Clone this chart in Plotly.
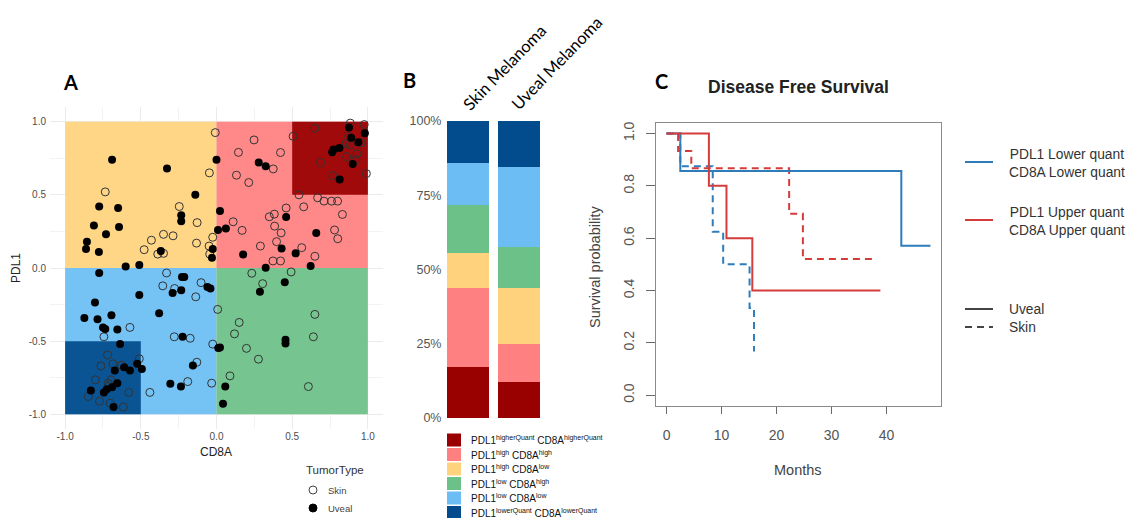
import plotly.graph_objects as go

# page has an 8px body margin; figure fills the rest of the 1139x526 window
OX, OY = 8, 8
FW, FH = 1123, 510


def px(x):
    return (x - OX) / FW


def py(y):
    return 1 - (y - OY) / FH


# ---------------- Panel A data (CD8A vs PDL1) ----------------
uveal_x = [-0.69, -0.775, -0.65, -0.81, -0.644, -0.73, -0.856, -0.862, -0.777, -0.6, -0.51, -0.327, -0.14,
           -0.233, -0.233, -0.368, -0.025, -0.03, 0.0,
           0.279, 0.325, 0.023, 0.01, 0.062, 0.46, 0.43, 0.176, 0.325, 0.523, 0.659, 0.622,
           0.814, 0.764, 0.773, 0.812, 0.875, 0.89, 0.98, 0.937, 0.9,
           -0.775, -0.803, -0.873, -0.786, -0.694, -0.75, -0.735, -0.655, -0.637, -0.51, -0.29, -0.233,
           -0.228, -0.213, -0.06, -0.04, -0.379, -0.224, -0.156, -0.305, -0.235,
           -0.672, -0.61, -0.572, -0.524, -0.493, -0.83, -0.744, -0.725, -0.69, -0.655, -0.68,
           0.287, 0.451, 0.058, 0.043, 0.023, 0.012, 0.456, 0.456]
uveal_y = [0.74, 0.42, 0.41, 0.29, 0.28, 0.23, 0.18, 0.13, 0.11, 0.01, 0.02, 0.68, 0.50,
           0.36, 0.32, 0.116, 0.13, 0.07, 0.74,
           0.72, 0.695, 0.39, 0.26, 0.27, 0.348, 0.134, 0.093, 0.002, 0.1, 0.239, 0.014,
           0.605, 0.79, 0.81, 0.82, 0.96, 0.89, 0.92, 0.86, 0.71,
           -0.034, -0.236, -0.342, -0.35, -0.322, -0.406, -0.417, -0.42, -0.52, -0.184, -0.17, -0.152,
           -0.061, -0.061, -0.13, -0.14, -0.31, -0.47, -0.667, -0.79, -0.81,
           -0.70, -0.678, -0.70, -0.655, -0.69, -0.837, -0.85, -0.828, -0.814, -0.787, -0.95,
           -0.163, -0.098, -0.81, -0.927, -0.544, -0.546, -0.49, -0.515]
skin_x = [-0.735, -0.246, -0.128, -0.35, -0.287, -0.43, -0.478, -0.388, -0.35, -0.132, -0.049, -0.025,
          -0.045, -0.008, -0.047,
          0.248, 0.145, 0.132, 0.213, 0.375, 0.423, 0.506, 0.11, 0.169, 0.349, 0.382, 0.384, 0.46, 0.427,
          0.397, 0.29, 0.373, 0.423, 0.563, 0.545, 0.576, 0.668, 0.71, 0.76, 0.8, 0.832, 0.78, 0.801, 0.65,
          0.65, 0.687, 0.768, 0.856, 0.86, 0.884, 0.976, 0.928, 0.921, 0.99, 0.873, 0.884, 0.956,
          -0.572, -0.744, -0.33, -0.355, -0.277, -0.102, -0.137, -0.279, -0.174, -0.025, -0.13, -0.19,
          -0.032, -0.44,
          -0.72, -0.764, -0.685, -0.628, -0.51, -0.8, -0.847, -0.773, -0.707, -0.698, -0.702, -0.615,
          -0.58, -0.716,
          0.008, 0.233, 0.305, 0.493, 0.15, 0.119, 0.198, 0.277, 0.089, 0.65, 0.64, 0.607]
skin_y = [0.52, 0.42, 0.31, 0.23, 0.22, 0.19, 0.125, 0.095, 0.10, 0.17, 0.15, 0.21,
          0.095, 0.925, 0.65,
          0.875, 0.79, 0.634, 0.584, 0.677, 0.789, 0.9, 0.316, 0.257, 0.35, 0.368, 0.286, 0.41, 0.24,
          0.18, 0.15, 0.048, 0.048, 0.139, 0.5, 0.418, 0.48, 0.457, 0.457, 0.457, 0.366, 0.26, 0.2, 0.08,
          0.955, 0.72, 0.63, 0.85, 0.76, 0.99, 0.98, 0.78, 0.74, 0.645, 0.9, 0.84, 0.855,
          -0.406, -0.47, -0.034, -0.122, -0.14, -0.1, -0.197, -0.47, -0.48, -0.52, -0.644, -0.776,
          -0.787, -0.85,
          -0.594, -0.669, -0.655, -0.664, -0.62, -0.764, -0.878, -0.91, -0.798, -0.764, -0.923, -0.95,
          -0.85, -0.787,
          -0.283, -0.036, -0.107, -0.027, -0.372, -0.45, -0.549, -0.623, -0.737, -0.317, -0.47, -0.81]

# quadrant group definitions (CD8A range, PDL1 range)
quad_x0 = [-1.0, 0.0, 0.5, -1.0, 0.0, -1.0]
quad_x1 = [0.0, 1.0, 1.0, 0.0, 1.0, -0.5]
quad_y0 = [0.0, 0.0, 0.5, -1.0, -1.0, -1.0]
quad_y1 = [1.0, 1.0, 1.0, 0.0, 0.0, -0.5]
quad_col = ["#FFD27D", "#FF8080", "#990000", "#6BBDF4", "#6CC188", "#024B8C"]
axis_ticks_a = [-1.0, -0.5, 0.0, 0.5, 1.0]

# ---------------- Panel B data ----------------
tumor_labels = ["Skin Melanoma", "Uveal Melanoma"]
group_labels = [
    "PDL1<sup>higherQuant</sup> CD8A<sup>higherQuant</sup>",
    "PDL1<sup>high</sup> CD8A<sup>high</sup>",
    "PDL1<sup>high</sup> CD8A<sup>low</sup>",
    "PDL1<sup>low</sup> CD8A<sup>high</sup>",
    "PDL1<sup>low</sup> CD8A<sup>low</sup>",
    "PDL1<sup>lowerQuant</sup> CD8A<sup>lowerQuant</sup>",
]
group_colors = ["#990000", "#FF8080", "#FFD27D", "#6CC188", "#6BBDF4", "#024B8C"]
skin_pct = [17.2, 26.6, 11.8, 16.1, 14.2, 14.1]
uveal_pct = [12.1, 12.9, 18.8, 13.7, 27.1, 15.4]
pct_ticks = [0, 25, 50, 75, 100]

# ---------------- Panel C data (Kaplan-Meier) ----------------
uv_low_t = [0, 2.5, 42.7, 48]
uv_low_s = [1.0, 0.857, 0.571, 0.571]
uv_up_t = [0, 7.7, 10.9, 15.6, 38.9]
uv_up_s = [1.0, 0.8, 0.6, 0.4, 0.4]
sk_up_t = [0, 2.1, 4.5, 22.3, 24.8, 38.2]
sk_up_s = [1.0, 0.933, 0.867, 0.693, 0.52, 0.52]
sk_low_t = [0, 2.5, 8.4, 10.3, 15.1, 15.9]
sk_low_s = [1.0, 0.875, 0.625, 0.5, 0.333, 0.167]
month_ticks = [0, 10, 20, 30, 40]
surv_ticks = [0.0, 0.2, 0.4, 0.6, 0.8, 1.0]

BLUE = "#2E7CBA"
RED = "#D43C3C"
DASH = "7px,5px"

fig = go.Figure()

# Panel A scatter
fig.add_trace(go.Scatter(x=skin_x, y=skin_y, mode="markers", name="Skin", xaxis="x", yaxis="y",
                         marker=dict(symbol="circle-open", size=8, color="#333333", line=dict(width=1))))
fig.add_trace(go.Scatter(x=uveal_x, y=uveal_y, mode="markers", name="Uveal", xaxis="x", yaxis="y",
                         marker=dict(symbol="circle", size=8, color="#000000")))

# Panel B stacked bars
for lab, col, s, u in zip(group_labels, group_colors, skin_pct, uveal_pct):
    fig.add_trace(go.Bar(x=tumor_labels, y=[s, u], name=lab, marker=dict(color=col, line=dict(width=0)),
                         width=0.82, xaxis="x2", yaxis="y2"))

# Panel C KM curves
for t, s, col, dash in [(sk_low_t, sk_low_s, BLUE, DASH), (sk_up_t, sk_up_s, RED, DASH),
                        (uv_low_t, uv_low_s, BLUE, "solid"), (uv_up_t, uv_up_s, RED, "solid")]:
    fig.add_trace(go.Scatter(x=t, y=s, mode="lines", line=dict(shape="hv", color=col, width=2, dash=dash),
                             xaxis="x3", yaxis="y3"))

shapes = []
for x0, x1, y0, y1, c in zip(quad_x0, quad_x1, quad_y0, quad_y1, quad_col):
    shapes.append(dict(type="rect", xref="x", yref="y", x0=x0, x1=x1, y0=y0, y1=y1,
                       fillcolor=c, line=dict(width=0), layer="between", opacity=0.93))

annotations = []


def ann(text, x, y, size, color="#222222", xanchor="center", yanchor="middle", angle=0,
        family="Liberation Sans, Arial, sans-serif", bold=False):
    if bold:
        text = "<b>" + text + "</b>"
    annotations.append(dict(text=text, x=px(x), y=py(y), xref="paper", yref="paper", showarrow=False,
                            xanchor=xanchor, yanchor=yanchor, textangle=angle,
                            font=dict(size=size, color=color, family=family)))


# panel letters
ann("A", 70, 82, 20, "#000", bold=True, family="Lato, Liberation Sans, sans-serif")
ann("B", 409, 80, 20, "#000", bold=True, family="Lato, Liberation Sans, sans-serif")
ann("C", 661, 81, 20, "#000", bold=True, family="Lato, Liberation Sans, sans-serif")

# Panel A axis titles and legend
ann("PDL1", 16, 268, 12, "#222", angle=-90)
ann("CD8A", 216, 452, 12, "#222")
ann("TumorType", 304, 470, 11.5, "#333", xanchor="left")
ann("Skin", 326, 490, 9.5, "#444", xanchor="left")
ann("Uveal", 326, 508, 9.5, "#444", xanchor="left")
r = 4
shapes.append(dict(type="circle", xref="paper", yref="paper", x0=px(313 - r), x1=px(313 + r),
                   y0=py(490 + r), y1=py(490 - r), line=dict(color="#444", width=1), fillcolor="rgba(0,0,0,0)"))
shapes.append(dict(type="circle", xref="paper", yref="paper", x0=px(313 - r), x1=px(313 + r),
                   y0=py(508 + r), y1=py(508 - r), line=dict(color="#000", width=1), fillcolor="#000"))

# Panel B column labels and legend
ann(tumor_labels[0], 505, 67, 16.5, "#000", angle=-46, family="Lato, Open Sans, sans-serif")
ann(tumor_labels[1], 557, 63, 16.5, "#000", angle=-46, family="Lato, Open Sans, sans-serif")
row_y0 = 440
row_dy = 14.5
for i, (lab, col) in enumerate(zip(group_labels, group_colors)):
    yc = row_y0 + i * row_dy
    shapes.append(dict(type="rect", xref="paper", yref="paper", x0=px(447), x1=px(461),
                       y0=py(yc + 6.5), y1=py(yc - 6.5), fillcolor=col, line=dict(width=0)))
    ann(lab, 469, yc, 10, "#111", xanchor="left")

# Panel C titles and legend
ann("Disease Free Survival", 798, 87, 17.5, "#222", bold=True)
ann("Months", 798, 470, 14.5, "#444")
ann("Survival probability", 595, 267, 14.5, "#444", angle=-90)
for yc, col, txt in [(162, BLUE, "PDL1 Lower quant<br>CD8A Lower quant"),
                     (220, RED, "PDL1 Upper quant<br>CD8A Upper quant")]:
    shapes.append(dict(type="line", xref="paper", yref="paper", x0=px(965), x1=px(993), y0=py(yc), y1=py(yc),
                       line=dict(color=col, width=2)))
    ann(txt, 1007, yc + 1, 13.8, "#333", xanchor="left")
for yc, dash, txt in [(309, "solid", "Uveal"), (327, DASH, "Skin")]:
    shapes.append(dict(type="line", xref="paper", yref="paper", x0=px(965), x1=px(993), y0=py(yc), y1=py(yc),
                       line=dict(color="#444", width=2, dash=dash)))
    ann(txt, 1007, yc, 13.8, "#333", xanchor="left")

tickA = dict(size=10, color="#4D4D4D", family="Liberation Sans, Arial, sans-serif")
labA = ["%.1f" % v for v in axis_ticks_a]
fig.update_layout(
    width=FW, height=FH, margin=dict(l=0, r=0, t=0, b=0, autoexpand=False), paper_bgcolor="white",
    plot_bgcolor="white",
    showlegend=False, barmode="stack", shapes=shapes, annotations=annotations,
    font=dict(family="Liberation Sans, Arial, sans-serif"),
    xaxis=dict(domain=[px(50), px(383)], range=[-1.1, 1.1], tickvals=axis_ticks_a,
               ticktext=labA, showgrid=True, gridcolor="#EBEBEB", automargin=False,
               gridwidth=1, zeroline=False, showline=False, ticks="", tickfont=tickA,
               minor=dict(dtick=0.25, tick0=0, showgrid=True, gridcolor="#F3F3F3", gridwidth=0.6),
               anchor="y"),
    yaxis=dict(domain=[py(429), py(107)], range=[-1.1, 1.1], tickvals=axis_ticks_a,
               ticktext=labA, showgrid=True, gridcolor="#EBEBEB", automargin=False,
               gridwidth=1, zeroline=False, showline=False, ticks="", tickfont=tickA,
               ticklabelstandoff=3,
               minor=dict(dtick=0.25, tick0=0, showgrid=True, gridcolor="#F3F3F3", gridwidth=0.6),
               anchor="x"),
    xaxis2=dict(domain=[px(442.5), px(544.5)], range=[-0.5, 1.5], showticklabels=False, showgrid=False,
                zeroline=False, showline=False, ticks="", anchor="y2", automargin=False),
    yaxis2=dict(domain=[py(418), py(121)], range=[0, 100], tickvals=pct_ticks,
                ticktext=["%d%%" % v for v in pct_ticks], automargin=False,
                showgrid=False, zeroline=False, showline=False, ticks="",
                tickfont=dict(size=12.5, color="#555555"), anchor="x2"),
    xaxis3=dict(domain=[px(656), px(941)], range=[-1.92, 49.92], tickvals=month_ticks, showgrid=False,
                zeroline=False, showline=True, mirror=True, linecolor="#8A8A8A", linewidth=1,
                ticks="outside", ticklen=7, tickcolor="#6A6A6A", tickwidth=1, ticklabelstandoff=9,
                tickfont=dict(size=14, color="#555555"), anchor="y3", automargin=False),
    yaxis3=dict(domain=[py(405.7), py(123)], range=[-0.04, 1.04], tickvals=surv_ticks,
                ticktext=["%.1f" % v for v in surv_ticks], tickangle=-90, showgrid=False,
                zeroline=False, showline=True, mirror=True, linecolor="#8A8A8A", linewidth=1,
                ticks="outside", ticklen=9, tickcolor="#6A6A6A", tickwidth=1, ticklabelstandoff=6,
                tickfont=dict(size=14, color="#555555"), anchor="x3", automargin=False),
)

fig.write_html("out.html")
